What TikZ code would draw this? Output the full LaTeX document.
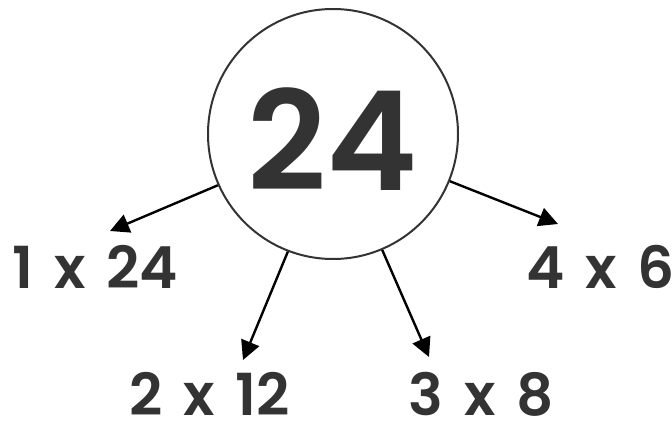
\documentclass[tikz,border=0pt]{standalone}
\usepackage{fontspec}
\setmainfont{Poppins}
\newfontfamily\factorfont{Poppins SemiBold}[WordSpace=1.5]
\usetikzlibrary{arrows.meta, positioning}
\definecolor{ink}{HTML}{333333}
\begin{document}
\begin{tikzpicture}[x=1pt, y=-1pt,
    factor/.style={text=ink, font=\factorfont\fontsize{58}{58}\selectfont, inner sep=0pt, anchor=base},
    branch/.style={-{Triangle[length=19pt, width=19pt]}, line width=2.4pt, black}]
    \useasboundingbox (0,0) rectangle (672,422);
    \node[circle, draw=ink, line width=2pt, minimum size=250pt, inner sep=0pt] (num) at (333,134) {};
    \node[text=ink, font=\factorfont\fontsize{138}{138}\selectfont, inner sep=0pt, anchor=base]
        (val) at (333,191) {24};
    \node[factor] (f1) at (95,288) {1 x 24};
    \node[factor] (f2) at (210,415) {2 x 12};
    \node[factor] (f3) at (481,415) {3 x 8};
    \node[factor] (f4) at (601,288) {4 x 6};
    \coordinate (t1) at (110,231);
    \coordinate (t2) at (243,360);
    \coordinate (t3) at (429,357);
    \coordinate (t4) at (558,224);
    \foreach \a/\t in {204/t1, 249/t2, 293/t3, 338/t4} {
        \draw[branch] (num.\a) -- (\t);
    }
\end{tikzpicture}
\end{document}
